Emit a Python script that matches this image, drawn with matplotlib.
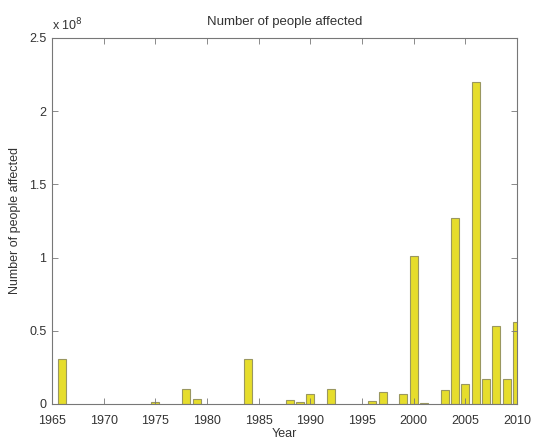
import matplotlib
matplotlib.use("Agg")
import matplotlib.pyplot as plt
from matplotlib.ticker import FuncFormatter
import numpy as np

# Yearly counts (people affected)
years = [1966, 1975, 1978, 1979, 1984, 1988, 1989, 1990, 1992, 1996, 1997,
         1999, 2000, 2001, 2003, 2004, 2005, 2006, 2007, 2008, 2009, 2010]
affected = [0.31e8, 0.015e8, 0.10e8, 0.036e8, 0.31e8, 0.03e8, 0.01e8, 0.066e8,
            0.10e8, 0.02e8, 0.08e8, 0.07e8, 1.01e8, 0.005e8, 0.096e8, 1.27e8,
            0.135e8, 2.2e8, 0.169e8, 0.533e8, 0.169e8, 0.562e8]
xticks = [1965, 1970, 1975, 1980, 1985, 1990, 1995, 2000, 2005, 2010]
yticks = [0, 0.5e8, 1e8, 1.5e8, 2e8, 2.5e8]

plt.rcParams['font.family'] = ['Liberation Sans', 'DejaVu Sans']

fig = plt.figure(figsize=(5.34, 4.41), dpi=100)
ax = fig.add_axes([0.0974, 0.084, 0.8708, 0.830])

ax.bar(years, affected, width=0.8, color='#e6dd2c', edgecolor='#9a9760', linewidth=0.8)

ax.set_xlim(1965, 2010)
ax.set_ylim(0, 2.5e8)
ax.set_xticks(xticks)
ax.set_yticks(yticks)
ax.yaxis.set_major_formatter(FuncFormatter(lambda v, p: '%g' % (v / 1e8)))

for s in ax.spines.values():
    s.set_color('#777777')
    s.set_linewidth(0.8)
ax.tick_params(direction='in', top=True, right=True, length=4, width=0.6,
               color='#777777', labelsize=9, labelcolor='#333333', pad=4)
ax.tick_params(axis='x', pad=8)

ax.text(0.0, 1.012, 'x 10$^8$', transform=ax.transAxes, fontsize=9, color='#333333',
        ha='left', va='bottom')
ax.set_title('Number of people affected', fontsize=9.5, color='#333333', pad=9)
ax.set_xlabel('Year', fontsize=9, color='#333333', labelpad=1)
ax.set_ylabel('Number of people affected', fontsize=9, color='#333333', labelpad=6)

fig.savefig('out.png', dpi=100, facecolor='white')
